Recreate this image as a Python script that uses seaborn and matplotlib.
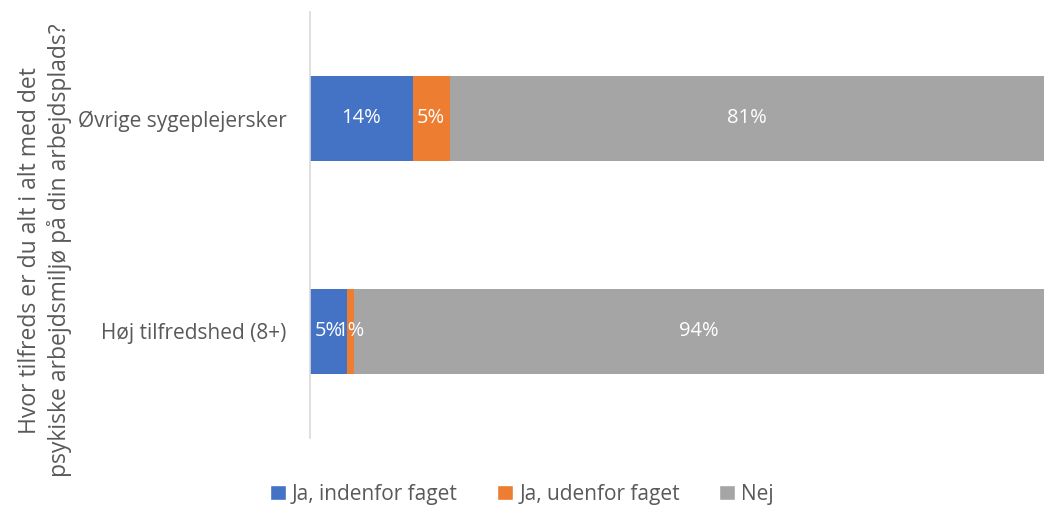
import numpy as np
import pandas as pd
import matplotlib.pyplot as plt
import seaborn as sns
from matplotlib.patches import Patch

categories = ['Øvrige sygeplejersker', 'Høj tilfredshed (8+)']
series = ['Ja, indenfor faget', 'Ja, udenfor faget', 'Nej']
ja_indenfor = [14, 5]
ja_udenfor = [5, 1]
nej = [81, 94]
colors = ['#4472C4', '#ED7D31', '#A5A5A5']
ylabel = 'Hvor tilfreds er du alt i alt med det\npsykiske arbejdsmiljø på din arbejdsplads?'

sns.set_theme(style='white')
plt.rcParams['font.family'] = ['Open Sans', 'DejaVu Sans']
textcol = '#595959'

values = np.array([ja_indenfor, ja_udenfor, nej], dtype=float)
cum = values.cumsum(axis=0)

fig = plt.figure(figsize=(10.44, 5.11), dpi=100)
ax = fig.add_axes([0.297, 0.143, 0.703, 0.834])

# stacked bars drawn as overlapping cumulative totals, largest first
for i in range(len(series) - 1, -1, -1):
    df = pd.DataFrame({'Kategori': categories, 'Andel': cum[i]})
    sns.barplot(data=df, y='Kategori', x='Andel', orient='h', color=colors[i],
                saturation=1, width=0.4, linewidth=0, ax=ax)

for i in range(len(series)):
    for j, cat in enumerate(categories):
        ax.text(cum[i, j] - values[i, j] / 2, j, f'{values[i, j]:.0f}%',
                ha='center', va='center', color='white', fontsize=14.5)

ax.set_xlim(0, 100)
ax.set_ylim(1.5, -0.5)
ax.set_xticks([])
ax.set_xlabel('')
ax.set_ylabel(ylabel, fontsize=16.5, color=textcol, linespacing=1.25)
ax.yaxis.set_label_coords(-0.325, 0.44)
ax.tick_params(axis='y', length=0, pad=17, labelsize=15, labelcolor=textcol)
for s in ['top', 'right', 'bottom']:
    ax.spines[s].set_visible(False)
ax.spines['left'].set_color('#D9D9D9')
ax.spines['left'].set_linewidth(1.2)

handles = [Patch(facecolor=c, label=s) for c, s in zip(colors, series)]
fig.legend(handles=handles, loc='lower center', ncol=3, frameon=False,
           bbox_to_anchor=(0.5, -0.025), fontsize=15, labelcolor=textcol,
           handlelength=0.75, handleheight=0.75, handletextpad=0.3, columnspacing=1.9)

fig.savefig('out.png', dpi=100)
